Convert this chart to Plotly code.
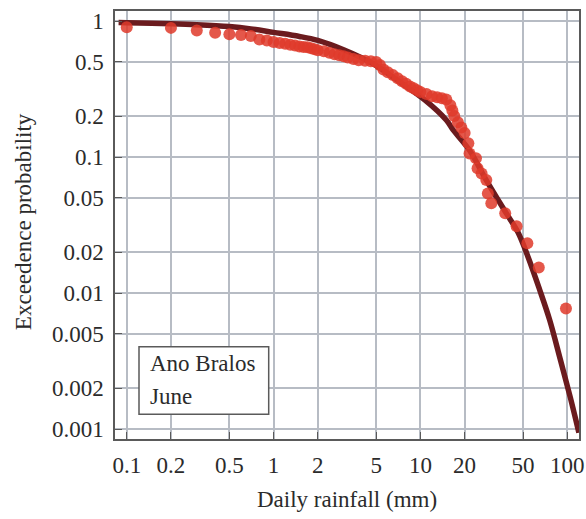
import plotly.graph_objects as go

# Fitted curve
curve_x = [0.088, 0.1, 0.2, 0.3, 0.5, 0.7, 1, 1.5, 2, 3, 4, 5, 7, 10.7, 15, 16.7,
           21.6, 28, 38.5, 46, 54, 65, 76, 90, 105, 120]
curve_y = [0.975, 0.972, 0.955, 0.94, 0.91, 0.875, 0.825, 0.77, 0.72, 0.615, 0.535,
           0.47, 0.365, 0.263, 0.187, 0.158, 0.112, 0.068, 0.0385, 0.0282, 0.0185,
           0.0105, 0.0063, 0.0032, 0.0017, 0.00094]

pts_x = [0.1, 0.2, 0.3, 0.4, 0.5, 0.6, 0.7, 0.8, 0.9, 1.0, 1.1, 1.2, 1.3, 1.4, 1.5,
         1.6, 1.7, 1.8, 1.9, 2.0, 2.2, 2.4, 2.6, 2.8, 3.0, 3.2, 3.5, 3.8, 4.2, 4.6,
         5.0, 5.3, 5.6, 6.0, 6.5, 7.0, 7.5, 8.0, 8.5, 9.0, 9.5, 10, 11, 12, 13, 14,
         15, 16, 16.5, 17, 18, 19, 20, 21.2, 21.6, 23.9, 24.5, 26.1, 28.1, 28.8,
         30.4, 37.8, 45.2, 53.5, 64, 98]
pts_y = [0.90, 0.89, 0.85, 0.82, 0.80, 0.79, 0.775, 0.73, 0.72, 0.70, 0.69, 0.68,
         0.67, 0.66, 0.65, 0.645, 0.64, 0.63, 0.62, 0.61, 0.60, 0.585, 0.57, 0.56,
         0.55, 0.54, 0.525, 0.515, 0.51, 0.505, 0.50, 0.475, 0.44, 0.42, 0.40, 0.38,
         0.36, 0.345, 0.33, 0.32, 0.31, 0.30, 0.29, 0.28, 0.275, 0.27, 0.265, 0.24,
         0.22, 0.20, 0.18, 0.165, 0.15, 0.126, 0.106, 0.098, 0.0826, 0.0756, 0.0677,
         0.054, 0.0457, 0.0386, 0.031, 0.0232, 0.0154, 0.0077]

x_tickvals = [0.1, 0.2, 0.5, 1, 2, 5, 10, 20, 50, 100]
x_ticktext = ["0.1", "0.2", "0.5", "1", "2", "5", "10", "20", "50", "100"]
y_tickvals = [1, 0.5, 0.2, 0.1, 0.05, 0.02, 0.01, 0.005, 0.002, 0.001]
y_ticktext = ["1", "0.5", "0.2", "0.1", "0.05", "0.02", "0.01", "0.005", "0.002", "0.001"]

FONT = "Liberation Serif, Times New Roman, serif"
TXT = "#2b2b2b"
GRID = "#b7bcc4"
FRAME = "#5a5a5a"

fig = go.Figure()
fig.add_trace(go.Scatter(x=curve_x, y=curve_y, mode="lines",
                         line=dict(color="#6b1b1e", width=5.5, shape="spline", smoothing=1.0),
                         hoverinfo="skip", showlegend=False))
fig.add_trace(go.Scatter(x=pts_x, y=pts_y, mode="markers",
                         marker=dict(color="rgba(223,58,42,0.85)", size=12, line=dict(width=0)),
                         showlegend=False))

axis_common = dict(showgrid=True, gridcolor=GRID, gridwidth=1.5, showline=True,
                   linecolor=FRAME, linewidth=1.5, mirror=True, ticks="inside",
                   ticklen=7, tickcolor=FRAME, tickwidth=1.2, zeroline=False,
                   automargin=False,
                   tickfont=dict(family=FONT, size=23, color=TXT))

fig.update_xaxes(type="log", range=[-1.08, 2.08], tickvals=x_tickvals,
                 ticktext=x_ticktext, ticklabelstandoff=5, **axis_common)
fig.update_yaxes(type="log", range=[-3.0735, 0.0735], tickvals=y_tickvals,
                 ticktext=y_ticktext, ticklabelstandoff=5, **axis_common)

# Axis titles
fig.add_annotation(text="Daily rainfall (mm)", xref="paper", yref="paper",
                   x=0.5, y=-0.142, xanchor="center", yanchor="middle",
                   showarrow=False, font=dict(family=FONT, size=23, color=TXT))
fig.add_annotation(text="Exceedence probability", xref="paper", yref="paper",
                   x=-0.198, y=0.507, xanchor="center", yanchor="middle", textangle=-90,
                   showarrow=False, font=dict(family=FONT, size=23, color=TXT))

# Label box
fig.add_shape(type="rect", xref="paper", yref="paper",
              x0=(139 - 115) / 464, x1=(268.7 - 115) / 464,
              y0=(439 - 414.3) / 428, y1=(439 - 346.7) / 428,
              line=dict(color=FRAME, width=1.5), fillcolor="white", layer="above")
fig.add_annotation(text="Ano Bralos", xref="paper", yref="paper",
                   x=(148 - 115) / 464, y=(439 - 363) / 428, xanchor="left", yanchor="middle",
                   showarrow=False, font=dict(family=FONT, size=23, color=TXT))
fig.add_annotation(text="June", xref="paper", yref="paper",
                   x=(148 - 115) / 464, y=(439 - 396) / 428, xanchor="left", yanchor="middle",
                   showarrow=False, font=dict(family=FONT, size=23, color=TXT))

fig.update_layout(width=586, height=519, margin=dict(l=115, r=7, t=11, b=80),
                  paper_bgcolor="white", plot_bgcolor="white")

fig.write_html("out.html", config={"displayModeBar": False},
               post_script="document.body.style.margin='0';document.body.style.overflow='hidden';")
